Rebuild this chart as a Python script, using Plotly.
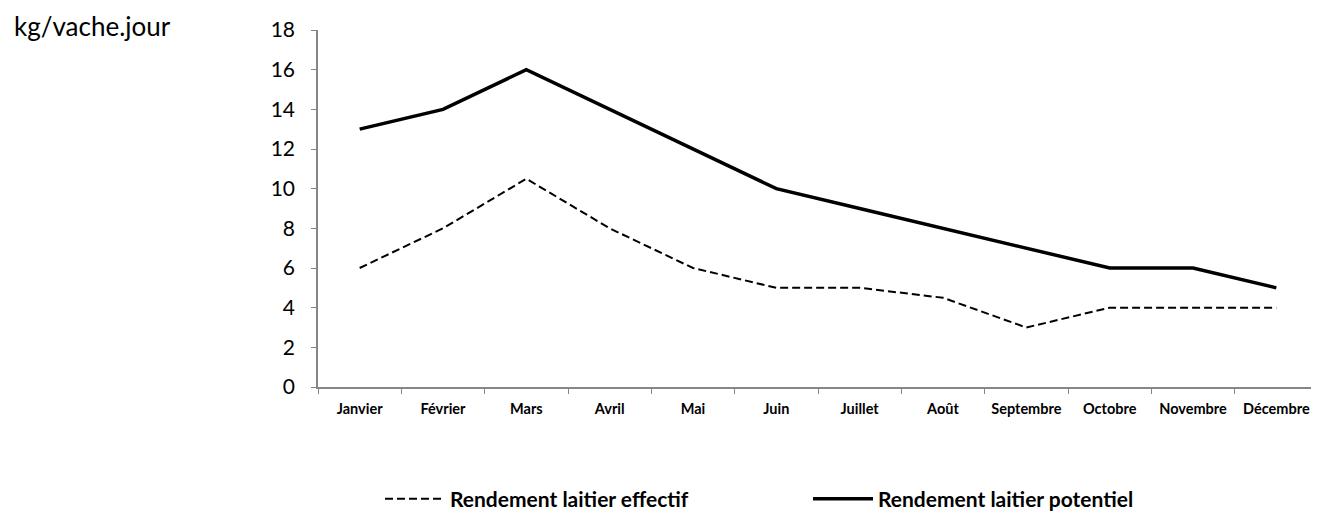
import plotly.graph_objects as go

months = ["Janvier", "Février", "Mars", "Avril", "Mai", "Juin", "Juillet",
          "Août", "Septembre", "Octobre", "Novembre", "Décembre"]
effectif = [6, 8, 10.5, 8, 6, 5, 5, 4.5, 3, 4, 4, 4]
potentiel = [13, 14, 16, 14, 12, 10, 9, 8, 7, 6, 6, 5]
y_ticks = [0, 2, 4, 6, 8, 10, 12, 14, 16, 18]

FONT = "Lato"
W, H = 1311, 507  # page has an 8px body margin
OFF = 8
L, T = 318 - OFF, 30 - OFF
PW, PH = 1000, 357

fig = go.Figure()
fig.add_trace(go.Scatter(
    x=months, y=effectif, mode="lines", name="Rendement laitier effectif",
    line=dict(color="black", width=2, dash="8px,4px"),
))
fig.add_trace(go.Scatter(
    x=months, y=potentiel, mode="lines", name="Rendement laitier potentiel",
    line=dict(color="black", width=3.5),
))

fig.update_layout(
    width=W, height=H,
    margin=dict(l=L, r=W - L - PW, t=T, b=H - T - PH),
    paper_bgcolor="white", plot_bgcolor="white",
    font=dict(family=FONT, color="black"),
    showlegend=True,
    legend=dict(
        orientation="h", xref="container", yref="container",
        x=(380 - OFF) / W, y=(H - (499 - OFF)) / H, xanchor="left", yanchor="middle",
        font=dict(size=21, family=FONT, weight="bold"),
        entrywidth=353, entrywidthmode="pixels",
        itemwidth=60,
    ),
    annotations=[dict(
        text="kg/vache.jour", xref="paper", yref="paper",
        x=(12 - 318) / PW, y=1.0 + T / PH, xanchor="left", yanchor="top",
        showarrow=False, font=dict(size=26, family=FONT, color="black"),
    )],
)

fig.update_xaxes(
    type="category", range=[-0.5, 11.5],
    showline=True, linecolor="#868686", linewidth=1.5,
    ticks="outside", tickson="boundaries", ticklen=5, tickcolor="#868686",
    tickfont=dict(size=14.5, family=FONT, weight="bold", color="black"),
    ticklabelstandoff=8,
    showgrid=False, zeroline=False,
)
fig.update_yaxes(
    range=[0, 18], tickvals=y_ticks,
    showline=True, linecolor="#868686", linewidth=1.5,
    ticks="outside", ticklen=5, tickcolor="#868686",
    tickfont=dict(size=21, family=FONT, color="black"),
    ticklabelstandoff=12,
    showgrid=False, zeroline=False,
)

fig.write_html("out.html")
